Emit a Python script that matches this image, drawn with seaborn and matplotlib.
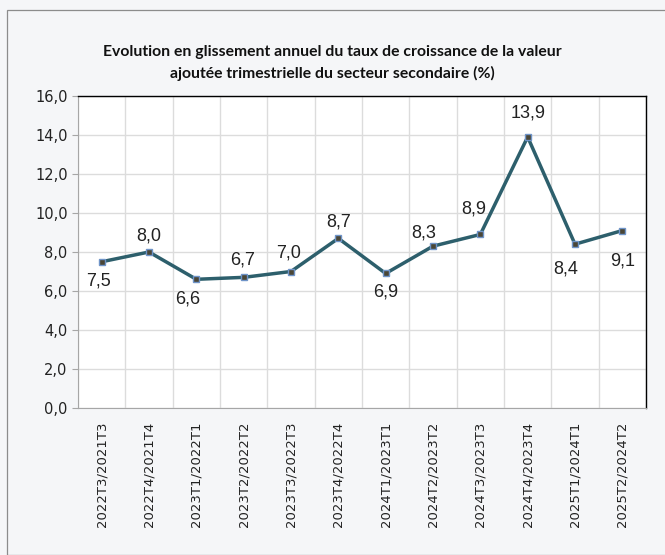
import numpy as np
import pandas as pd
import matplotlib
matplotlib.use('Agg')
import matplotlib.pyplot as plt
from matplotlib.patches import Rectangle
import seaborn as sns

# Données
trimestres = ['2022T3/2021T3', '2022T4/2021T4', '2023T1/2022T1', '2023T2/2022T2',
              '2023T3/2022T3', '2023T4/2022T4', '2024T1/2023T1', '2024T2/2023T2',
              '2024T3/2023T3', '2024T4/2023T4', '2025T1/2024T1', '2025T2/2024T2']
taux = [7.5, 8.0, 6.6, 6.7, 7.0, 8.7, 6.9, 8.3, 8.9, 13.9, 8.4, 9.1]

# décalage des étiquettes en pixels (style, comme dans Excel)
dx_etiq = [-3, 0, -9, -1, -2, 0, 0, -9, -7, 0, -9, 0]
dy_etiq = [-19, 16, -20, 17, 19, 16, -19, 13, 25, 24, -25, -30]

df = pd.DataFrame({'trimestre': trimestres, 'taux': taux})

sns.set_style('white')
plt.rcParams['font.family'] = ['DejaVu Sans']

fig = plt.figure(figsize=(6.65, 5.55), dpi=100)
fig.patch.set_facecolor('#f5f6f8')
fig.patches.append(Rectangle((7 / 665, 0), 1, 1 - 10 / 555, transform=fig.transFigure,
                             fill=False, edgecolor='#8c8c8c', linewidth=0.9))

ax = fig.add_axes([78 / 665, 1 - 408 / 555, (646 - 78) / 665, (408 - 96) / 555])
ax.set_facecolor('white')

sns.lineplot(data=df, x='trimestre', y='taux', ax=ax, color='#2d5f6c', linewidth=2.5,
             marker='s', markersize=5, markerfacecolor='#4a4636',
             markeredgecolor='#6f94c8', markeredgewidth=1.0, sort=False)

ax.set_xlim(-0.5, len(trimestres) - 0.5)
ax.set_ylim(0, 16)
ax.set_yticks(np.arange(0, 17, 2))
ax.set_yticklabels([f'{v:.1f}'.replace('.', ',') for v in np.arange(0, 17, 2)],
                   fontsize=10.5, color='#222222')
ax.set_xticks(range(len(trimestres)))
ax.set_xticklabels(trimestres, rotation=90, fontsize=9.5, color='#222222')
ax.set_xticks(np.arange(-0.5, len(trimestres), 1), minor=True)
ax.tick_params(axis='x', which='major', length=0, pad=10)
ax.tick_params(axis='x', which='minor', length=4, color='#a6a6a6')
ax.tick_params(axis='y', length=4, color='#a6a6a6', left=True)
ax.grid(axis='y', color='#dcdcdc', linewidth=1)
ax.grid(axis='x', which='minor', color='#dcdcdc', linewidth=1)
ax.set_xlabel('')
ax.set_ylabel('')

for s in ['left', 'bottom']:
    ax.spines[s].set_color('#a6a6a6')
for s in ['top', 'right']:
    ax.spines[s].set_color('#000000')
    ax.spines[s].set_linewidth(1.0)

fam = ['Liberation Sans Narrow', 'Liberation Sans', 'DejaVu Sans']
for i, v in enumerate(taux):
    ax.annotate(f'{v:.1f}'.replace('.', ','), (i, v), xytext=(dx_etiq[i], dy_etiq[i]),
                textcoords='offset pixels', ha='center', va='center',
                fontsize=13, color='#222222', family=fam)

fig.text(0.5, 1 - 52 / 555, 'Evolution en glissement annuel du taux de croissance de la valeur',
         ha='center', va='center', fontsize=11.3, fontweight='bold', color='#111111',
         family=['Lato', 'DejaVu Sans'])
fig.text(0.5, 1 - 73 / 555, 'ajoutée trimestrielle du secteur secondaire (%)',
         ha='center', va='center', fontsize=11.3, fontweight='bold', color='#111111',
         family=['Lato', 'DejaVu Sans'])

fig.savefig('out.png', dpi=100, facecolor=fig.get_facecolor())
